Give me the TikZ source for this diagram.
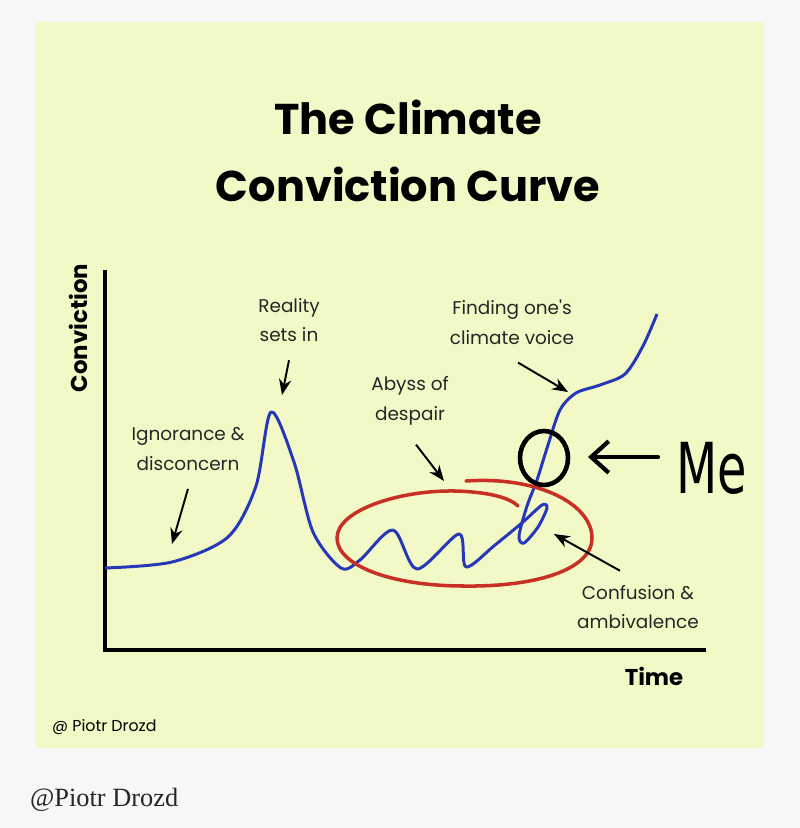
\documentclass[tikz,border=0pt]{standalone}
\usepackage{fontspec}
\setmainfont{Poppins}
\newfontfamily\serifface{Liberation Serif}
\newfontfamily\handface{DejaVu Sans}
\usetikzlibrary{arrows.meta, positioning}
\definecolor{paper}{RGB}{247,247,247}
\definecolor{panel}{RGB}{242,249,198}
\definecolor{curve}{RGB}{38,56,184}
\definecolor{ring}{RGB}{200,48,38}

\begin{document}
\begin{tikzpicture}[
    x=0.02cm, y=-0.02cm,
    title/.style={font=\fontsize{24.5}{38}\selectfont\bfseries, align=center},
    phase/.style={font=\fontsize{10.5}{17}\selectfont, align=center, text=black!85},
    axislabel/.style={font=\fontsize{13}{15}\selectfont\bfseries},
    pointer/.style={-{Stealth[length=9pt, width=7pt]}, line width=1.1pt},
    axis/.style={line width=1.8pt}
]

% page and panel
\useasboundingbox (0,0) rectangle (800,828);
\fill[paper] (0,0) rectangle (800,828);
\fill[panel] (35,22) rectangle (764,748);

\node[title] (head) at (408,151) {The Climate\\Conviction Curve};

% axes
\coordinate (origin) at (105,650);
\coordinate (ytop) at (105,270);
\coordinate (xend) at (706,650);
\draw[axis] (ytop) -- (origin) -- (xend);
\node[axislabel, rotate=90] (yname) at (78,328) {Conviction};
\node[axislabel] (xname) at (654,676) {Time};

% the curve
\draw[curve, line width=1.7pt, line join=round] plot[smooth, tension=0.5] coordinates {
    (105,568) (172,562) (228,537) (256,486) (271,412) (294,462) (313,532)
    (341,568) (360,560) (393,530) (417,569) (459,534) (466,567)
    (495,545) (523,522) (542,505) (547,508) (538,527) (524,543) (519,536)
    (527,506) (537,480) (548,445) (560,410) (576,393) (600,385)
    (625,374) (643,346) (657,314)};

% red loop around the despair part
\draw[ring, line width=2pt, line cap=round]
    (466,481) .. controls (540,476) and (592,505) .. (592,538)
    .. controls (592,570) and (535,587) .. (464,586)
    .. controls (390,586) and (337,565) .. (337,538)
    .. controls (337,510) and (400,490) .. (455,491)
    .. controls (490,492) and (510,498) .. (518,506);

% phase labels
\node[phase] (ignorance) at (188,449) {Ignorance \&\\disconcern};
\node[phase] (reality) at (289,320) {Reality\\sets in};
\node[phase] (abyss) at (410,401) {Abyss of\\despair};
\node[phase] (voice) at (512,322) {Finding one\textquotesingle s\\climate voice};
\node[phase] (confusion) at (638,607) {Confusion \&\\ambivalence};

\coordinate (ignorancetip) at (172,544);
\coordinate (realitytip) at (282,395);
\coordinate (abysstip) at (444,481);
\coordinate (voicetip) at (568,392);
\coordinate (confusiontip) at (554,534);

\draw[pointer] (ignorance.south) ++(0,12) coordinate (ignorancetail) -- (ignorancetip);
\draw[pointer] (reality.south) ++(0,12) coordinate (realitytail) -- (realitytip);
\draw[pointer] (abyss.south) ++(6,13) coordinate (abysstail) -- (abysstip);
\draw[pointer] (voice.south) ++(6,12) coordinate (voicetail) -- (voicetip);
\draw[pointer] (confusion.north) ++(-18,-8) coordinate (confusiontail) -- (confusiontip);

% the "me" mark
\draw[line width=2.6pt] (544,458) ellipse [x radius=24, y radius=27];
\node[font=\handface\fontsize{40}{40}\selectfont, xscale=0.68] (me) at (712,468) {Me};
\coordinate (mestart) at (658,457);
\coordinate (meend) at (588,457);
\draw[line width=2.4pt, line cap=round, -{Straight Barb[length=10pt, width=18pt, line width=2.4pt]}] (mestart) -- (meend);

% credits
\node[font=\fontsize{9}{10}\selectfont, anchor=west] (credit) at (46,727) {@ Piotr Drozd};
\node[font=\serifface\fontsize{15}{17}\selectfont, text=black!85, anchor=west] (byline) at (24,800) {@Piotr Drozd};

\end{tikzpicture}
\end{document}
